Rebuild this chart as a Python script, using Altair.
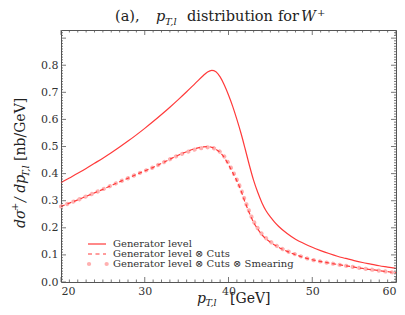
import altair as alt
import pandas as pd

# ---------------- data ----------------
gen_pt = [20, 21, 22, 23, 24, 25, 26, 27, 28, 29, 30, 31, 32, 33, 34, 35, 36, 37, 37.5, 38,
          38.5, 39, 39.5, 40, 40.5, 41, 41.5, 42, 42.5, 43, 43.5, 44, 44.5, 45, 45.5, 46, 47,
          48, 49, 50, 51, 52, 53, 54, 55, 56, 57, 58, 59, 60]
gen_val = [0.367, 0.384, 0.401, 0.419, 0.438, 0.457, 0.477, 0.498, 0.520, 0.543, 0.567, 0.592,
           0.618, 0.645, 0.673, 0.702, 0.732, 0.762, 0.775, 0.781, 0.776, 0.757, 0.727, 0.690,
           0.648, 0.600, 0.548, 0.490, 0.430, 0.375, 0.330, 0.292, 0.262, 0.240, 0.221, 0.205,
           0.179, 0.158, 0.142, 0.128, 0.116, 0.105, 0.095, 0.087, 0.079, 0.072, 0.066, 0.060,
           0.055, 0.050]

cut_pt = [20, 21, 22, 23, 24, 25, 26, 27, 28, 29, 30, 31, 32, 33, 34, 35, 36, 37, 37.5, 38,
          38.5, 39, 39.5, 40, 40.5, 41, 41.5, 42, 42.5, 43, 43.5, 44, 45, 46, 47, 48, 49, 50,
          52, 54, 56, 58, 60]
cut_val = [0.279, 0.291, 0.303, 0.316, 0.329, 0.342, 0.356, 0.370, 0.383, 0.397, 0.410, 0.423,
           0.438, 0.453, 0.468, 0.481, 0.492, 0.499, 0.500, 0.497, 0.490, 0.478, 0.459, 0.433,
           0.404, 0.373, 0.337, 0.292, 0.254, 0.220, 0.195, 0.174, 0.147, 0.128, 0.113, 0.101,
           0.090, 0.082, 0.070, 0.060, 0.050, 0.042, 0.034]

sm_pt = [20, 21, 22, 23, 24, 25, 26, 27, 28, 29, 30, 31, 32, 33, 34, 35, 36, 37, 37.5, 38,
         38.5, 39, 39.5, 40, 40.5, 41, 41.5, 42, 42.5, 43, 43.5, 44, 45, 46, 47, 48, 49, 50,
         52, 54, 56, 58, 60]
sm_val = [0.279, 0.291, 0.303, 0.316, 0.329, 0.342, 0.356, 0.370, 0.383, 0.397, 0.410, 0.423,
          0.438, 0.453, 0.467, 0.479, 0.489, 0.495, 0.497, 0.496, 0.490, 0.480, 0.463, 0.438,
          0.409, 0.377, 0.341, 0.298, 0.259, 0.224, 0.198, 0.177, 0.149, 0.129, 0.114, 0.102,
          0.091, 0.082, 0.070, 0.060, 0.050, 0.042, 0.034]

x_major = [20, 30, 40, 50, 60]
x_minor = [v for v in range(21, 60) if v % 10 != 0]
y_major = [0.0, 0.1, 0.2, 0.3, 0.4, 0.5, 0.6, 0.7, 0.8, 0.9]
y_labels = [0.0, 0.1, 0.2, 0.3, 0.4, 0.5, 0.6, 0.7, 0.8]
y_minor = [i / 100 for i in range(1, 93) if i % 10 != 0]

legend_labels = ["Generator level", "Generator level \u2297 Cuts",
                 "Generator level \u2297 Cuts \u2297 Smearing"]

# ---------------- layout ----------------
W, H = 335, 252
FONT = "DejaVu Serif"
RED = "#ff3a3a"
PINK = "#ffb0b0"
FRAME = "#555555"

xs = alt.Scale(domain=[20, 60], nice=False, zero=False)
ys = alt.Scale(domain=[0, 0.93], nice=False, zero=True)

df_gen = pd.DataFrame({"pt": gen_pt, "v": gen_val})
df_cut = pd.DataFrame({"pt": cut_pt, "v": cut_val})
df_sm = pd.DataFrame({"pt": sm_pt, "v": sm_val})

xaxis = alt.Axis(values=x_major, format="d", ticks=False, domain=False, grid=False,
                 labelFont=FONT, labelFontSize=11, labelColor="#333", labelPadding=3,
                 labelOverlap=False, title=None)
yaxis = alt.Axis(values=y_labels, format=".1f", ticks=False, domain=False, grid=False,
                 labelFont=FONT, labelFontSize=11, labelColor="#333", labelPadding=3,
                 labelOverlap=False, title=None)

X = alt.X("pt:Q", scale=xs, axis=xaxis)
Y = alt.Y("v:Q", scale=ys, axis=yaxis)

smear = alt.Chart(df_sm).mark_line(
    color=PINK, strokeWidth=4.2, strokeDash=[0.1, 6.5], strokeCap="round",
    interpolate="monotone").encode(x=X, y=Y)
cuts = alt.Chart(df_cut).mark_line(
    color=RED, strokeWidth=1.2, strokeDash=[4, 3], interpolate="monotone").encode(x=X, y=Y)
gen = alt.Chart(df_gen).mark_line(
    color=RED, strokeWidth=1.2, interpolate="monotone").encode(x=X, y=Y)

layers = [smear, cuts, gen]

# inward ticks on all four sides
dxM = pd.DataFrame({"pt": x_major})
dxm = pd.DataFrame({"pt": x_minor})
dyM = pd.DataFrame({"v": y_major})
dym = pd.DataFrame({"v": y_minor})
tick_style = dict(color=FRAME, strokeWidth=0.8)
for d, L in [(dxM, 5), (dxm, 2.5)]:
    layers.append(alt.Chart(d).mark_rule(**tick_style).encode(
        x=X, y=alt.value(H), y2=alt.value(H - L)))
    layers.append(alt.Chart(d).mark_rule(**tick_style).encode(
        x=X, y=alt.value(0), y2=alt.value(L)))
for d, L in [(dyM, 5), (dym, 2)]:
    layers.append(alt.Chart(d).mark_rule(**tick_style).encode(
        y=Y, x=alt.value(0), x2=alt.value(L)))
    layers.append(alt.Chart(d).mark_rule(**tick_style).encode(
        y=Y, x=alt.value(W), x2=alt.value(W - L)))

one = pd.DataFrame({"a": [0]})


def txt(s, x, y, size, italic=False, angle=0, color="#222"):
    kw = dict(text=s, font=FONT, fontSize=size, align="left", baseline="alphabetic",
              color=color)
    if italic:
        kw["fontStyle"] = "italic"
    if angle:
        kw["angle"] = angle
    return alt.Chart(one).mark_text(**kw).encode(x=alt.value(x), y=alt.value(y))


# title
layers += [
    txt("(a),", 54, -9, 14.5),
    txt("p", 95, -9, 14.5, italic=True),
    txt("T,l", 104, -5.5, 10, italic=True),
    txt("distribution", 126, -9, 14.5),
    txt("for", 217, -9, 14.5),
    txt("W", 240, -9, 14.5, italic=True),
    txt("+", 256, -14, 10),
]
# x title
layers += [
    txt("p", 136, 273, 14, italic=True),
    txt("T,l", 144.5, 276, 9.5, italic=True),
    txt("[GeV]", 169, 273, 14),
]
# y title (rotated)
layers += [
    txt("d\u03c3", -36, 198, 14, italic=True, angle=270),
    txt("+", -43, 181, 10, angle=270),
    txt("/ dp", -36, 172, 14, italic=True, angle=270),
    txt("T,l", -32, 147, 10, italic=True, angle=270),
    txt("[nb/GeV]", -36, 131, 14, angle=270),
]

# legend
ly = [214, 224, 234]
layers += [
    alt.Chart(one).mark_rule(color=RED, strokeWidth=1.2).encode(
        x=alt.value(27), x2=alt.value(45), y=alt.value(ly[0])),
    alt.Chart(one).mark_rule(color=RED, strokeWidth=1.2, strokeDash=[4, 3.5]).encode(
        x=alt.value(27), x2=alt.value(45), y=alt.value(ly[1])),
    alt.Chart(one).mark_rule(color=PINK, strokeWidth=4.2, strokeDash=[0.1, 17.5],
                             strokeCap="round").encode(
        x=alt.value(28), x2=alt.value(46), y=alt.value(ly[2])),
]
for lab, yy in zip(legend_labels, ly):
    layers.append(alt.Chart(one).mark_text(
        text=lab, font=FONT, fontSize=10, align="left", baseline="middle",
        color="#333").encode(x=alt.value(52), y=alt.value(yy)))

chart = alt.layer(*layers).properties(
    width=W, height=H,
    autosize=alt.AutoSizeParams(type="none"),
    padding={"left": 53, "top": 22, "right": 1, "bottom": 25},
).configure_view(stroke=FRAME, strokeWidth=1)

chart.save("out.html", embed_options={"renderer": "svg", "actions": False})
